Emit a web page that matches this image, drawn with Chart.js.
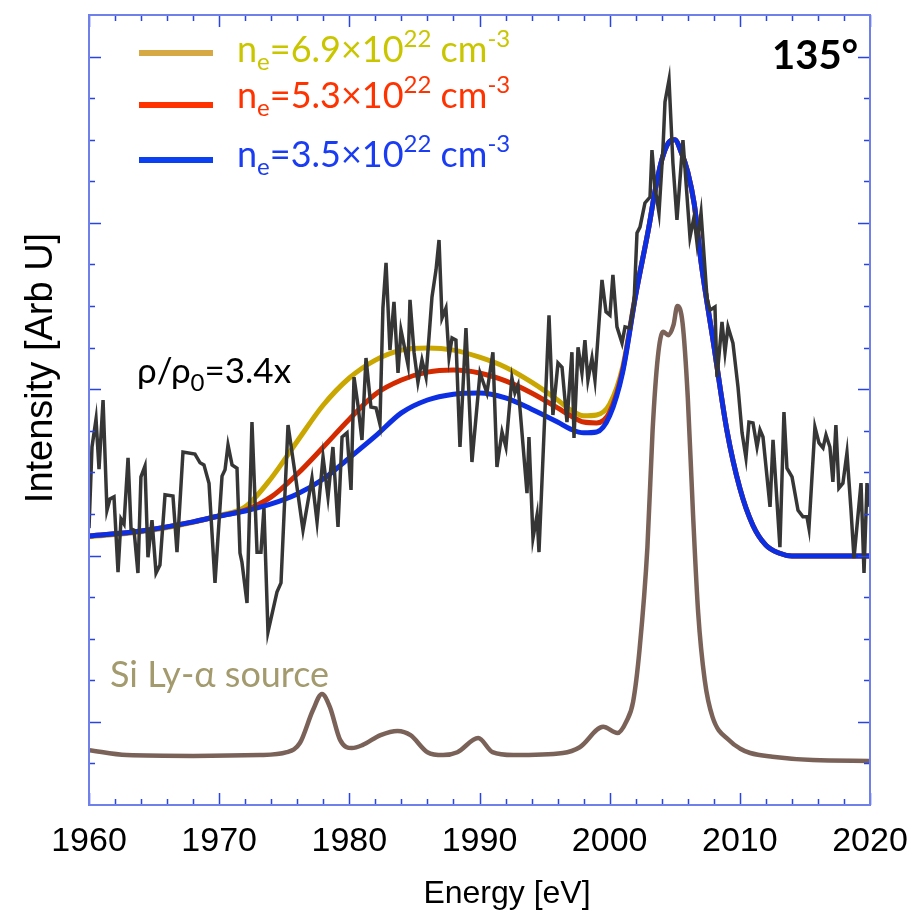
<!DOCTYPE html>
<html>
<head>
<meta charset="utf-8">
<title>Si Ly-alpha scattering 135°</title>
<script src="https://cdn.jsdelivr.net/npm/chart.js@4.4.0/dist/chart.umd.min.js"></script>
<style>
  html, body { margin: 0; padding: 0; background: #fff; }
  canvas { display: block; }
</style>
</head>
<body>
<canvas id="spectrum" width="915" height="916"></canvas>
<script>
// measured spectrum (noisy trace)
const measEnergy = [
  1960.0, 1960.23, 1960.54, 1960.77, 1961.08, 1961.38, 1961.61, 1961.92, 1962.23, 1962.46,
  1962.69, 1963.0, 1963.23, 1963.46, 1963.76, 1963.99, 1964.3, 1964.53, 1964.84, 1965.15,
  1965.45, 1965.84, 1966.45, 1966.76, 1967.22, 1968.14, 1968.53, 1968.83, 1969.22, 1969.68,
  1970.22, 1970.45, 1970.68, 1970.99, 1971.37, 1971.6, 1971.75, 1972.14, 1972.52, 1972.91,
  1973.21, 1973.44, 1973.75, 1974.44, 1974.75, 1975.29, 1975.9, 1976.44, 1977.13, 1977.52,
  1977.98, 1978.36, 1978.74, 1979.13, 1979.44, 1979.82, 1980.13, 1980.36, 1980.66, 1980.97,
  1981.28, 1981.66, 1982.05, 1982.35, 1982.58, 1982.82, 1983.12, 1983.43, 1983.74, 1983.97,
  1984.28, 1984.51, 1984.66, 1984.97, 1985.27, 1985.58, 1985.89, 1986.35, 1986.66, 1986.89,
  1987.12, 1987.42, 1987.66, 1987.89, 1988.19, 1988.5, 1988.96, 1989.42, 1990.04, 1990.57,
  1991.03, 1991.34, 1991.73, 1992.03, 1992.49, 1992.72, 1992.96, 1993.65, 1993.8, 1994.11,
  1994.42, 1994.57, 1995.34, 1995.64, 1996.03, 1996.34, 1996.72, 1997.1, 1997.26, 1997.57,
  1997.87, 1998.1, 1998.33, 1998.64, 1998.87, 1999.41, 1999.72, 2000.02, 2000.25, 2000.56,
  2000.95, 2001.18, 2001.56, 2001.87, 2002.1, 2002.33, 2002.71, 2003.1, 2003.25, 2003.48,
  2003.79, 2004.1, 2004.25, 2004.56, 2004.86, 2005.17, 2005.63, 2006.17, 2006.48, 2006.71,
  2007.02, 2007.48, 2007.71, 2008.09, 2008.25, 2008.63, 2008.86, 2009.09, 2009.47, 2009.86,
  2010.17, 2010.47, 2010.7, 2011.01, 2011.32, 2011.55, 2011.78, 2012.32, 2012.55, 2013.08,
  2013.39, 2013.62, 2014.01, 2014.47, 2014.85, 2015.16, 2015.31, 2015.77, 2016.08, 2016.39,
  2016.62, 2016.92, 2017.15, 2017.38, 2017.61, 2017.92, 2018.23, 2018.54, 2018.77, 2019.31,
  2019.54, 2019.77, 2020.0
];
const measIntensity = [
  6.66, 8.61, 9.28, 8.08, 9.74, 7.09, 7.36, 7.41, 5.60, 6.88,
  6.76, 8.35, 6.64, 6.61, 5.58, 7.89, 8.15, 5.96, 6.85, 5.58,
  5.77, 7.46, 7.43, 6.08, 8.49, 8.44, 8.23, 8.18, 7.74, 5.34,
  7.91, 8.06, 8.66, 8.18, 8.10, 6.06, 5.84, 4.86, 9.21, 6.08,
  6.08, 7.14, 4.16, 5.12, 5.34, 9.14, 7.82, 6.61, 7.86, 6.81,
  8.37, 7.41, 8.61, 6.69, 8.85, 8.95, 7.58, 10.29, 9.62, 8.78,
  10.75, 9.57, 9.55, 9.16, 11.95, 13.04, 10.94, 12.10, 10.39, 11.42,
  10.94, 10.58, 12.15, 10.89, 10.17, 10.70, 10.29, 12.22, 12.87, 13.59,
  11.71, 11.95, 10.77, 11.23, 11.18, 8.61, 11.47, 8.25, 10.39, 9.91,
  10.89, 8.13, 8.97, 8.61, 10.27, 9.91, 10.10, 7.50, 8.85, 6.42,
  6.97, 6.08, 11.78, 9.38, 10.63, 10.53, 9.21, 10.89, 8.83, 11.01,
  10.39, 11.18, 10.22, 10.75, 10.22, 12.63, 11.86, 11.78, 12.75, 11.50,
  11.11, 11.50, 11.47, 12.07, 13.76, 13.90, 14.48, 14.62, 15.75, 14.86,
  14.24, 15.82, 16.91, 17.44, 15.44, 14.07, 15.99, 13.66, 14.14, 13.52,
  14.24, 12.19, 11.90, 11.98, 10.29, 11.62, 10.89, 11.50, 11.11, 10.05,
  8.95, 8.35, 9.21, 9.19, 8.61, 9.02, 8.85, 7.17, 8.78, 6.20,
  9.45, 8.10, 7.89, 7.09, 6.93, 6.93, 6.66, 9.09, 8.71, 8.59,
  8.90, 8.61, 7.77, 9.14, 7.62, 7.74, 8.47, 7.09, 5.94, 7.74,
  5.58, 7.74, 7.17
];

// model fits for three electron densities
const fitEnergy = [
  1960, 1964, 1968, 1970, 1972, 1974, 1976, 1978, 1980, 1982,
  1984, 1986, 1988, 1990, 1992, 1994, 1996, 1997, 1998, 1999,
  2000, 2001, 2002, 2003, 2003.5, 2004, 2004.5, 2005, 2005.5, 2006,
  2006.5, 2007, 2008, 2009, 2010, 2011, 2012, 2013, 2014, 2016, 2020
];
const fitNe35 = [
  6.47, 6.59, 6.81, 6.95, 7.07, 7.24, 7.48, 7.84, 8.35, 8.87,
  9.43, 9.74, 9.88, 9.91, 9.79, 9.52, 9.21, 9.04, 8.95, 8.97,
  9.36, 10.41, 12.27, 13.88, 14.79, 15.51, 15.92, 16.0, 15.7, 15.22,
  14.45, 13.11, 11.06, 9.02, 7.62, 6.73, 6.25, 6.06, 5.99, 5.99, 5.99
];
const fitNe53 = [
  6.47, 6.59, 6.81, 6.95, 7.09, 7.41, 7.96, 8.61, 9.28, 9.88,
  10.22, 10.41, 10.46, 10.39, 10.20, 9.91, 9.55, 9.36, 9.21, 9.19,
  9.45, 10.46, 12.27, 13.88, 14.79, 15.51, 15.92, 16.0, 15.7, 15.22,
  14.45, 13.11, 11.06, 9.02, 7.62, 6.73, 6.25, 6.06, 5.99, 5.99, 5.99
];
const fitNe69 = [
  6.45, 6.57, 6.80, 6.96, 7.17, 7.86, 8.75, 9.62, 10.27, 10.70,
  10.94, 10.99, 10.94, 10.77, 10.53, 10.17, 9.74, 9.50, 9.36, 9.38,
  9.64, 10.53, 12.30, 13.88, 14.79, 15.51, 15.92, 16.0, 15.7, 15.22,
  14.45, 13.11, 11.06, 9.02, 7.62, 6.73, 6.25, 6.06, 5.99, 5.99, 5.99
];

// Si Ly-alpha source spectrum
const sourceEnergy = [
  1960.0, 1962.9, 1968.0, 1973.1, 1975.2, 1976.2, 1977.2, 1977.9, 1978.5, 1979.3,
  1980.2, 1981.0, 1982.4, 1983.7, 1984.7, 1986.0, 1987.2, 1988.3, 1989.9, 1991.0,
  1992.6, 1996.4, 1997.7, 1999.5, 2000.6, 2001.3, 2001.8, 2002.3, 2002.9, 2003.3,
  2003.7, 2004.1, 2004.5, 2004.9, 2005.2, 2005.6, 2006.0, 2006.4, 2006.8, 2007.3,
  2007.9, 2009.2, 2010.0, 2010.8, 2012.5, 2015.6, 2020.0
];
const sourceIntensity = [
  1.32, 1.20, 1.18, 1.20, 1.27, 1.49, 2.28, 2.67, 2.36, 1.56,
  1.37, 1.44, 1.68, 1.78, 1.68, 1.27, 1.20, 1.27, 1.61, 1.27,
  1.20, 1.25, 1.39, 1.88, 1.73, 2.02, 2.48, 3.75, 6.20, 9.02,
  10.77, 11.38, 11.30, 11.54, 12.00, 11.59, 9.81, 7.02, 4.62, 3.01,
  2.12, 1.55, 1.36, 1.25, 1.16, 1.08, 1.06
];

const xTickLabels = ["1960", "1970", "1980", "1990", "2000", "2010", "2020"];
const densityLabels = ["6.9", "5.3", "3.5"];

const axisBlue = "#2a44e2";
const frameBlue = "#6f80ea";

const toPoints = (xs, ys) => xs.map((x, i) => ({ x: x, y: ys[i] }));

// draws "n_e=M×10^22 cm^-3" with real sub/superscripts
function drawDensity(ctx, x, y, mantissa, color) {
  const parts = [
    { t: "n", s: 36, dy: 0 },
    { t: "e", s: 24, dy: 8 },
    { t: "=" + mantissa + "×10", s: 36, dy: 0 },
    { t: "22", s: 24, dy: -15 },
    { t: " cm", s: 36, dy: 0 },
    { t: "-3", s: 24, dy: -15 },
  ];
  ctx.fillStyle = color;
  ctx.textAlign = "left";
  ctx.textBaseline = "alphabetic";
  parts.forEach((p) => {
    ctx.font = p.s + "px Lato";
    ctx.fillText(p.t, x, y + p.dy);
    x += ctx.measureText(p.t).width;
  });
}

const decorations = {
  id: "decorations",
  afterDraw(chart) {
    const { ctx, chartArea: a, scales } = chart;
    const xs = scales.x;
    const ys = scales.y;
    ctx.save();

    // inward ticks on all four sides
    ctx.strokeStyle = axisBlue;
    ctx.lineWidth = 1.5;
    ctx.beginPath();
    for (let e = xs.min; e <= xs.max; e += 2) {
      const px = Math.round(xs.getPixelForValue(e)) + 0.5;
      const len = e % 10 === 0 ? 12 : 6;
      ctx.moveTo(px, a.bottom); ctx.lineTo(px, a.bottom - len);
      ctx.moveTo(px, a.top); ctx.lineTo(px, a.top + len);
    }
    for (let v = 1; v < ys.max; v++) {
      const py = Math.round(ys.getPixelForValue(v)) + 0.5;
      const len = v % 4 === 2 ? 12 : 6;
      ctx.moveTo(a.left, py); ctx.lineTo(a.left + len, py);
      ctx.moveTo(a.right, py); ctx.lineTo(a.right - len, py);
    }
    ctx.stroke();

    ctx.strokeStyle = frameBlue;
    ctx.lineWidth = 2;
    ctx.strokeRect(a.left, a.top, a.right - a.left, a.bottom - a.top);

    // legend
    const legendColors = ["#d6a944", "#ff3300", "#0b3ff2"];
    const textColors = ["#c9c600", "#ff3300", "#1a3cf2"];
    const lineY = [53, 105, 160];
    const textY = [62, 108, 167];
    ctx.lineWidth = 6;
    densityLabels.forEach((m, i) => {
      ctx.strokeStyle = legendColors[i];
      ctx.beginPath();
      ctx.moveTo(139, lineY[i]);
      ctx.lineTo(213, lineY[i]);
      ctx.stroke();
      drawDensity(ctx, 237, textY[i], m, textColors[i]);
    });

    // annotations
    ctx.fillStyle = "#000";
    ctx.font = "bold 40px Lato";
    ctx.fillText("135°", 772, 69);

    ctx.font = "35px Lato";
    let tx = 137;
    ctx.fillText("ρ/ρ", tx, 383);
    tx += ctx.measureText("ρ/ρ").width;
    ctx.font = "24px Lato";
    ctx.fillText("0", tx, 391);
    tx += ctx.measureText("0").width;
    ctx.font = "35px Lato";
    ctx.fillText("=3.4x", tx, 383);

    ctx.fillStyle = "#a39a6e";
    ctx.font = "36px Lato";
    ctx.fillText("Si Ly-α source", 110, 687);

    // axis titles
    ctx.fillStyle = "#000";
    ctx.font = "32px 'Liberation Sans'";
    ctx.textAlign = "center";
    ctx.fillText("Energy [eV]", 507, 903);
    ctx.translate(52, 368);
    ctx.rotate(-Math.PI / 2);
    ctx.font = "38px 'Liberation Sans'";
    ctx.fillText("Intensity [Arb U]", 0, 0);

    ctx.restore();
  },
};

new Chart(document.getElementById("spectrum").getContext("2d"), {
  type: "line",
  data: {
    datasets: [
      {
        label: "measured",
        data: toPoints(measEnergy, measIntensity),
        borderColor: "#363636",
        borderWidth: 3.5,
        tension: 0,
        order: 0,
      },
      {
        label: "ne=3.5e22",
        data: toPoints(fitEnergy, fitNe35),
        borderColor: "#0c2fe3",
        borderWidth: 5,
        cubicInterpolationMode: "monotone",
        order: 1,
      },
      {
        label: "ne=5.3e22",
        data: toPoints(fitEnergy, fitNe53),
        borderColor: "#d42a00",
        borderWidth: 5,
        cubicInterpolationMode: "monotone",
        order: 2,
      },
      {
        label: "ne=6.9e22",
        data: toPoints(fitEnergy, fitNe69),
        borderColor: "#c9a600",
        borderWidth: 5,
        cubicInterpolationMode: "monotone",
        order: 3,
      },
      {
        label: "source",
        data: toPoints(sourceEnergy, sourceIntensity),
        borderColor: "#7a6259",
        borderWidth: 4.5,
        cubicInterpolationMode: "monotone",
        order: 4,
      },
    ],
  },
  options: {
    responsive: false,
    animation: false,
    devicePixelRatio: 1,
    elements: { point: { radius: 0 } },
    layout: { padding: { left: 89, right: 45, top: 15, bottom: 0 } },
    plugins: { legend: { display: false }, tooltip: { enabled: false } },
    scales: {
      x: {
        type: "linear",
        min: 1960,
        max: 2020,
        afterFit: (scale) => {
          scale.height = 111;
          scale.paddingLeft = 0;
          scale.paddingRight = 0;
        },
        grid: { display: false, drawTicks: false },
        border: { display: false },
        ticks: {
          stepSize: 10,
          maxRotation: 0,
          padding: 16,
          color: "#000",
          font: { family: "'Liberation Sans'", size: 34 },
          callback: (v) => xTickLabels[xTickLabels.indexOf(String(v))] || "",
        },
      },
      y: {
        display: false,
        min: 0,
        max: 19,
      },
    },
  },
  plugins: [decorations],
});
</script>
</body>
</html>
